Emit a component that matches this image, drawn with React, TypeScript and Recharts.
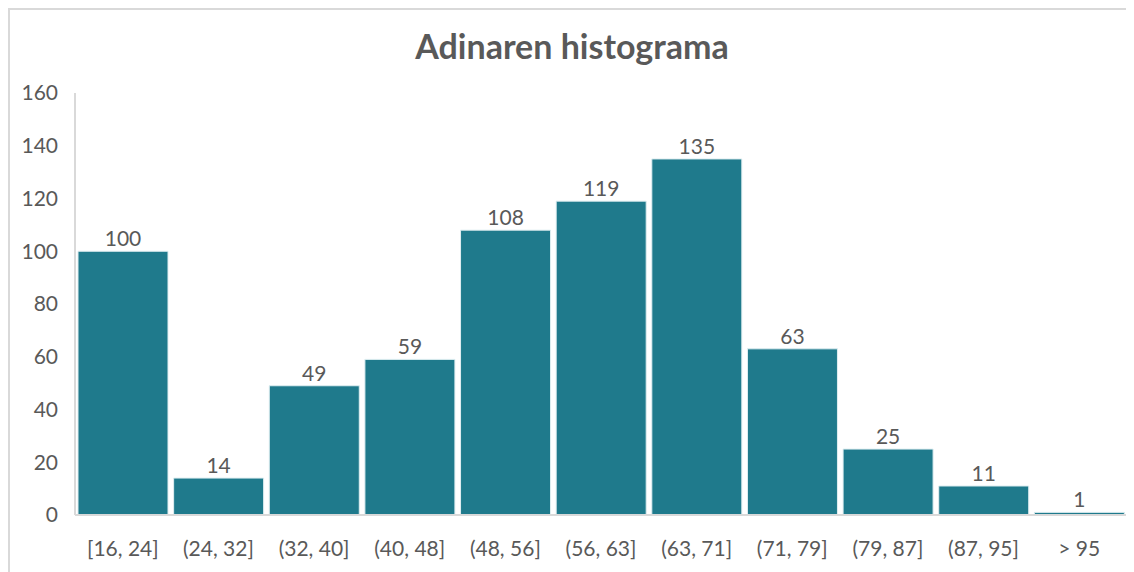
import { BarChart, Bar, XAxis, YAxis, LabelList } from "recharts";

const bins = [
  "[16, 24]",
  "(24, 32]",
  "(32, 40]",
  "(40, 48]",
  "(48, 56]",
  "(56, 63]",
  "(63, 71]",
  "(71, 79]",
  "(79, 87]",
  "(87, 95]",
  "> 95",
];
const counts = [100, 14, 49, 59, 108, 119, 135, 63, 25, 11, 1];
const yTicks = [0, 20, 40, 60, 80, 100, 120, 140, 160];

const data = bins.map((bin, i) => ({ bin, count: counts[i] }));

const font = "Lato, 'Liberation Sans', sans-serif";
const grey = "#595959";

export default function App() {
  return (
    <div
      style={{
        position: "relative",
        width: 1126,
        height: 564,
        borderTop: "2px solid #d9d9d9",
        borderLeft: "2px solid #d9d9d9",
        boxSizing: "border-box",
        background: "#fff",
        fontFamily: font,
      }}
    >
      <div
        style={{
          position: "absolute",
          top: 15,
          left: 0,
          width: "100%",
          textAlign: "center",
          fontSize: 34,
          fontWeight: 700,
          color: grey,
        }}
      >
        Adinaren histograma
      </div>
      <BarChart
        width={1124}
        height={562}
        data={data}
        margin={{ top: 83, right: 7, bottom: 15, left: 0 }}
        barCategoryGap={3}
      >
        <XAxis
          dataKey="bin"
          axisLine={{ stroke: "#d9d9d9", strokeWidth: 2 }}
          tickLine={false}
          tickMargin={20}
          height={42}
          interval={0}
          tick={{ fill: grey, fontSize: 21, fontFamily: font }}
        />
        <YAxis
          domain={[0, 160]}
          ticks={yTicks}
          axisLine={{ stroke: "#d9d9d9", strokeWidth: 2 }}
          tickLine={false}
          tickMargin={11}
          width={65}
          tick={{ fill: grey, fontSize: 21, fontFamily: font }}
        />
        <Bar
          dataKey="count"
          fill="#1f7a8c"
          stroke="#dfeef1"
          strokeWidth={1}
          isAnimationActive={false}
        >
          <LabelList
            dataKey="count"
            position="top"
            offset={5}
            fill={grey}
            fontSize={21}
            fontFamily={font}
          />
        </Bar>
      </BarChart>
    </div>
  );
}
